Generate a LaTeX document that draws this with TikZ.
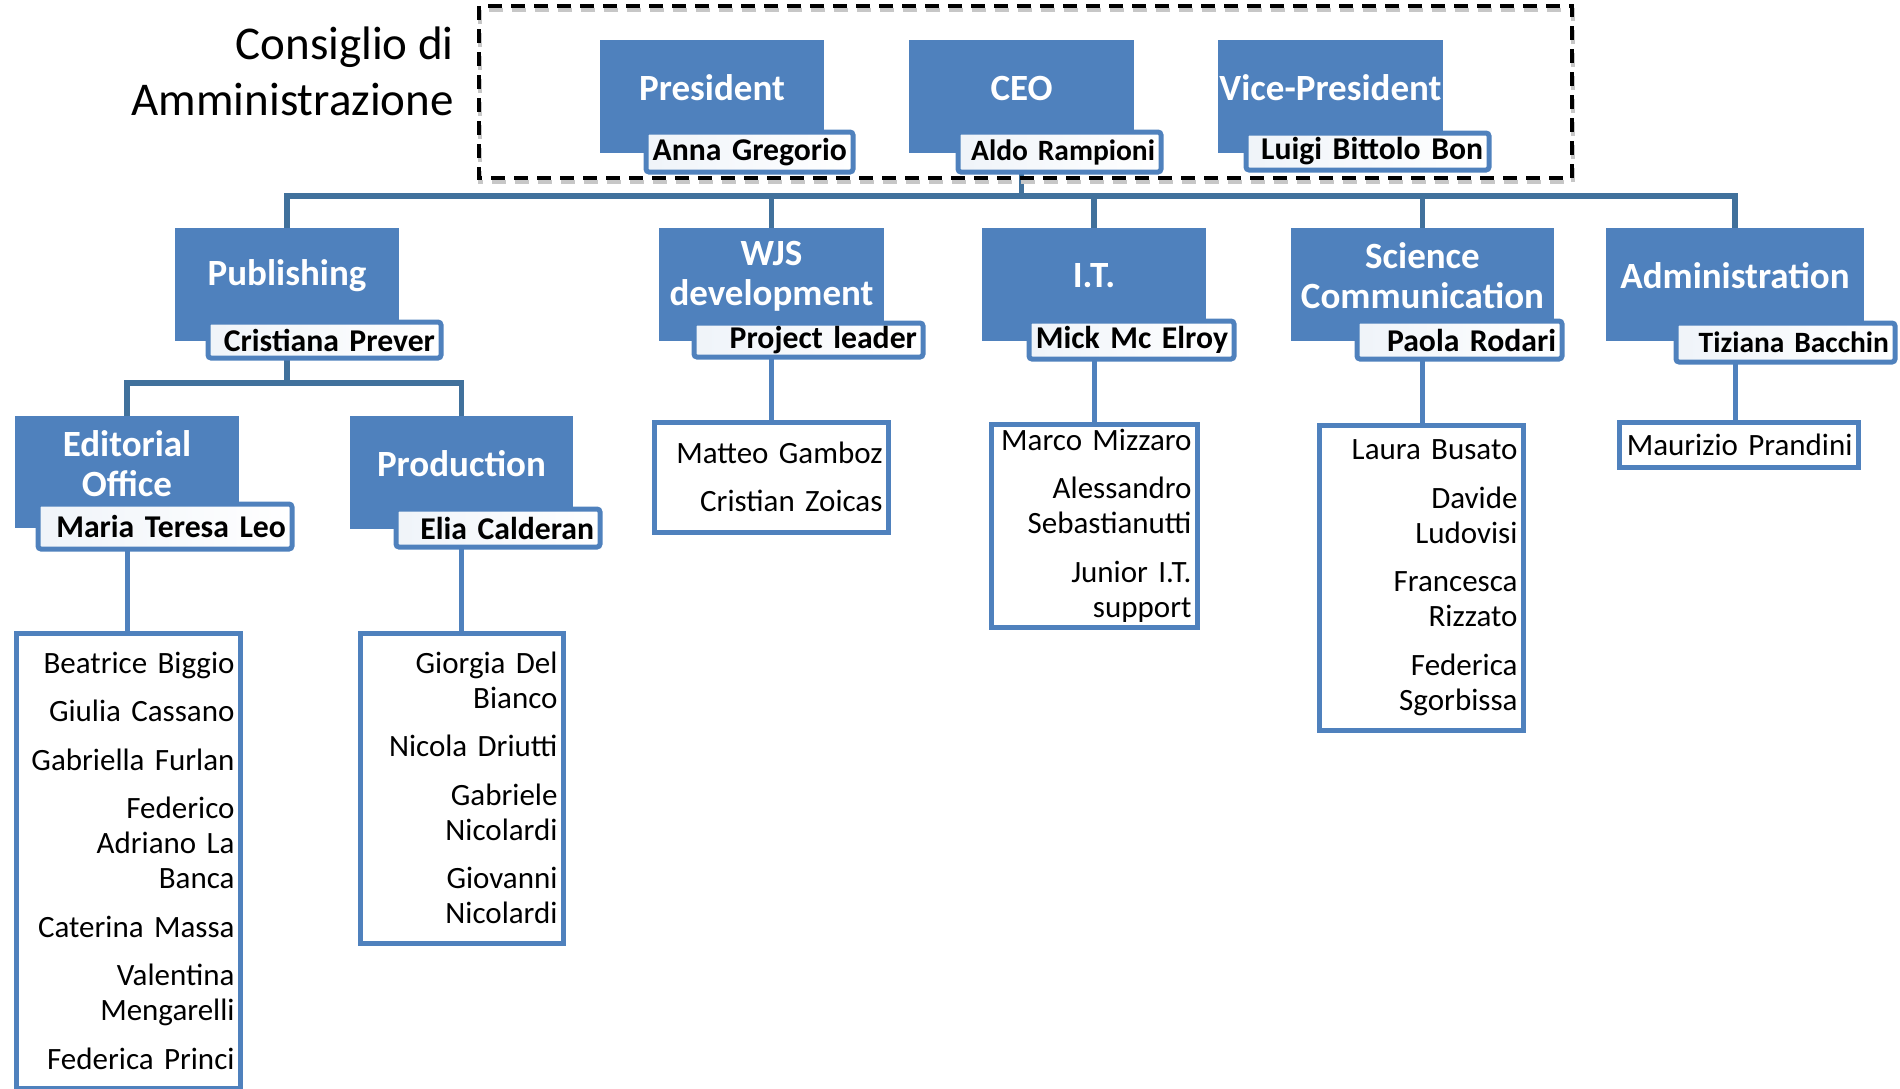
\documentclass[tikz,border=0pt]{standalone}
\usepackage{fontspec}
\setmainfont{Carlito}
\definecolor{mBlue}{HTML}{4F81BD}
\definecolor{mDarkBlue}{HTML}{41719C}
\usetikzlibrary{calc}
\usetikzlibrary{backgrounds}
\newcommand{\titlefont}{\fontsize{47}{56}\selectfont}
\newcommand{\headfont}{\fontsize{37}{40}\selectfont\bfseries}
\newcommand{\namefont}{\fontsize{31.7}{35}\selectfont\bfseries}
\newcommand{\smallnamefont}{\fontsize{29.5}{33}\selectfont\bfseries}
\newcommand{\listfont}{\fontsize{31}{35}\selectfont}
\newcommand{\itemgap}{\\[13.5pt]}

\begin{document}
\begin{tikzpicture}[x=1pt,y=-1pt,
    unitbox/.style={fill=mBlue,inner sep=0pt,anchor=north west,minimum height=113pt},
    headtext/.style={text=white,font=\headfont,align=center,inner sep=0pt},
    namebox/.style={draw=mBlue,line width=5pt,rounded corners=3pt,left color=mBlue!9,right color=white,
      font=\namefont,text width=#1,align=right,inner xsep=6pt,inner ysep=0pt,anchor=north west},
    listbox/.style={draw=mBlue,line width=5pt,fill=white,font=\listfont,text width=#1,align=right,
      inner xsep=6pt,anchor=north},
    conn/.style={draw=mDarkBlue,line width=5.5pt},
    subconn/.style={draw=mBlue,line width=5pt}]
        \useasboundingbox (0,0) rectangle (1900,1088);

        % Board
        \draw[black!22,line width=4.5pt,dash pattern=on 14pt off 9pt] (480,10) rectangle (1573,182);
        \draw[line width=3.5pt,dash pattern=on 14pt off 9pt] (479,6) rectangle (1572,178);
        \node[font=\titlefont,align=right,inner sep=0pt,anchor=east] (title) at (454,71) {Consiglio di\\Amministrazione};

        \node[unitbox,minimum width=224pt] (pres) at (600,40) {};
        \node[unitbox,minimum width=225pt] (ceo) at (909,40) {};
        \node[unitbox,minimum width=225pt] (vp) at (1218,40) {};
        \node[headtext] (presT) at (712,88) {President};
        \node[headtext] (ceoT) at (1021.5,88) {CEO};
        \node[headtext] (vpT) at (1330.5,88) {Vice-President};
        \node[namebox=195pt,minimum height=40pt] (presN) at (643.5,129.5) {Anna Gregorio};
        \node[namebox=191pt,minimum height=40pt,font=\smallnamefont] (ceoN) at (955.5,129.5) {Aldo Rampioni};
        \node[namebox=231pt,minimum height=37pt] (vpN) at (1243.5,130.5) {Luigi Bittolo Bon};

        % Departments
        \node[unitbox,minimum width=224pt] (pub) at (175,228) {};
        \node[unitbox,minimum width=225pt] (wjs) at (659,228) {};
        \node[unitbox,minimum width=224pt] (it) at (982,228) {};
        \node[unitbox,minimum width=263pt] (sci) at (1291,228) {};
        \node[unitbox,minimum width=258pt] (adm) at (1606,228) {};
        \node[headtext] (pubT) at (287,276) {Publishing};
        \node[headtext] (wjsT) at (771.5,276) {WJS\\development};
        \node[headtext] (itT) at (1094,276) {I.T.};
        \node[headtext] (sciT) at (1422.5,276) {Science\\Communication};
        \node[headtext] (admT) at (1735,276) {Administration};
        \node[namebox=221pt,minimum height=36pt] (pubN) at (205.5,319.5) {Cristiana Prever};
        \node[namebox=217pt,minimum height=34pt] (wjsN) at (691.5,320.5) {Project leader};
        \node[namebox=193pt,minimum height=38pt] (itN) at (1026.5,318.5) {Mick Mc Elroy};
        \node[namebox=193pt,minimum height=38pt] (sciN) at (1354.5,318.5) {Paola Rodari};
        \node[namebox=207pt,minimum height=39pt,font=\smallnamefont] (admN) at (1673.5,320.5) {Tiziana Bacchin};

        % Publishing units
        \node[unitbox,minimum width=224pt,minimum height=112pt] (edi) at (15,416) {};
        \node[unitbox,minimum width=223pt] (pro) at (350,416) {};
        \node[headtext] (ediT) at (127,464) {Editorial\\Office};
        \node[headtext] (proT) at (461.5,464) {Production};
        \node[namebox=242pt,minimum height=45pt] (ediN) at (35.5,501.5) {Maria Teresa Leo};
        \node[namebox=192pt,minimum height=38pt] (proN) at (393.5,506.5) {Elia Calderan};

        % Staff
        \node[listbox=212pt,minimum height=455pt] (ediL) at (128.5,630.5) {Beatrice Biggio\itemgap
          Giulia Cassano\itemgap Gabriella Furlan\itemgap Federico\\Adriano La\\Banca\itemgap
          Caterina Massa\itemgap Valentina\\Mengarelli\itemgap Federica Princi};
        \node[listbox=191pt,minimum height=310pt] (proL) at (462,630.5) {Giorgia Del\\Bianco\itemgap
          Nicola Driutti\itemgap Gabriele\\Nicolardi\itemgap Giovanni\\Nicolardi};
        \node[listbox=222pt,minimum height=110pt] (wjsL) at (771.5,419.5) {Matteo Gamboz\itemgap Cristian Zoicas};
        \node[listbox=194pt,minimum height=203pt] (itL) at (1094.5,421.5) {Marco Mizzaro\itemgap
          Alessandro\\Sebastianutti\itemgap Junior I.T.\\support};
        \node[listbox=192pt,minimum height=305pt] (sciL) at (1421.5,422.5) {Laura Busato\itemgap
          Davide\\Ludovisi\itemgap Francesca\\Rizzato\itemgap Federica\\Sgorbissa};
        \node[listbox=227pt,minimum height=45pt] (admL) at (1739,419.5) {Maurizio Prandini};

        % Connectors
        \begin{scope}[on background layer]
          \coordinate (bus) at (0,196);
          \coordinate (subbus) at (0,383);
          \draw[conn] (pub.north) |- (adm.north |- bus) -- (adm.north);
          \foreach \dept in {wjs,it,sci}
            \draw[conn] (\dept.north) -- (\dept.north |- bus);
          \draw[conn] (ceo.south) -- (ceo.south |- bus);
          \draw[conn] (pub.south) -- (pub.south |- subbus);
          \draw[conn] (edi.north) |- (pro.north |- subbus) -- (pro.north);
          \foreach \dept in {edi,pro,wjs,it,sci,adm}
            \draw[subconn] (\dept.south) -- (\dept.south |- \dept L.north);
        \end{scope}
      \end{tikzpicture}
\end{document}
